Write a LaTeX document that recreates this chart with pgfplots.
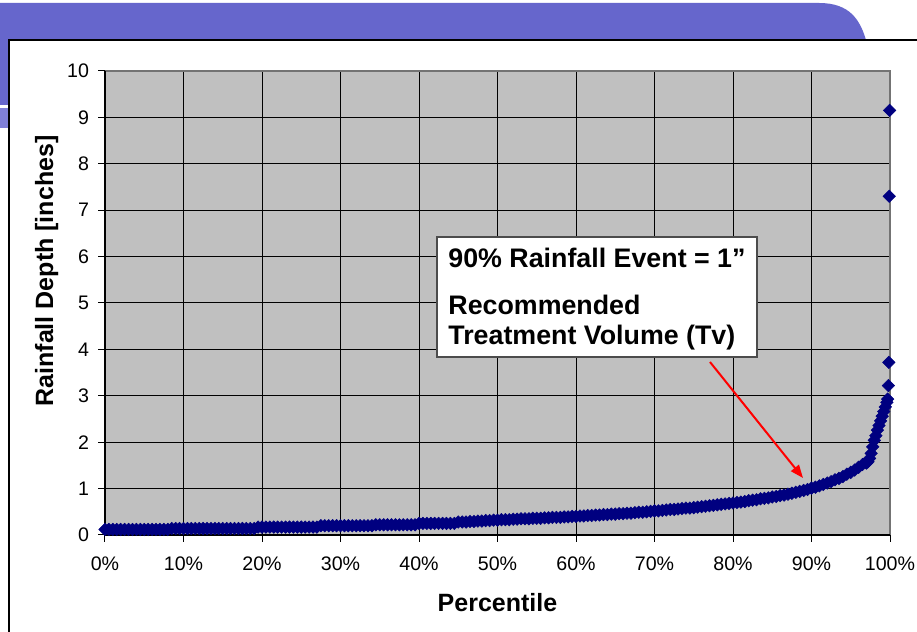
\documentclass[border=0pt]{standalone}
\usepackage{pgfplots}
\pgfplotsset{compat=1.18}
\usepackage{fontspec}
\setmainfont{Liberation Sans}
\usetikzlibrary{arrows.meta}
\definecolor{bandpurple}{RGB}{102,102,204}
\definecolor{bandlight}{RGB}{128,128,216}
\definecolor{plotgray}{RGB}{192,192,192}
\definecolor{navymark}{RGB}{0,0,128}
\definecolor{arrowred}{RGB}{255,0,0}
\begin{document}
\begin{tikzpicture}
\useasboundingbox (0,0) rectangle (458.5pt,316pt);
\fill[white] (0,0) rectangle (458.5pt,316pt);
% slide band
\fill[bandpurple] (0,296pt) -- (0,314.5pt) -- (409.5pt,314.5pt) .. controls (425pt,314.5pt) and (430pt,306pt) .. (433pt,296pt) -- cycle;
\fill[bandpurple] (0,263.5pt) rectangle (4.5pt,296pt);
\fill[bandlight] (0,252pt) rectangle (4.5pt,262pt);
% frame
\fill[white] (4.5pt,-1pt) rectangle (460pt,296pt);
\draw[black,line width=0.9pt] (4.5pt,-1pt) -- (4.5pt,296pt) -- (460pt,296pt);
\begin{axis}[
  scale only axis,
  width=392.5pt, height=232pt,
  at={(52.5pt,48.5pt)}, anchor=south west,
  xmin=0, xmax=100, ymin=0, ymax=10,
  xtick={0,10,...,100},
  xticklabels={0\%,10\%,20\%,30\%,40\%,50\%,60\%,70\%,80\%,90\%,100\%},
  ytick={0,1,...,10},
  /pgf/number format/assume math mode=true,
  tick label style={font=\fontsize{9.8}{11}\selectfont, black},
  xticklabel style={yshift=-4pt},
  yticklabel style={xshift=-1pt},
  tick align=outside,
  xtick pos=bottom, ytick pos=left,
  major tick length=3.5pt,
  tick style={black, line width=0.5pt},
  grid=major,
  grid style={black, line width=0.5pt},
  axis line style={draw=none},
  axis background/.style={fill=plotgray},
  clip=false,
  xlabel={Percentile},
  ylabel={Rainfall Depth [inches]},
  label style={font=\fontsize{12.5}{14}\selectfont\bfseries},
  xlabel style={at={(axis description cs:0.5,-0.1638)}, anchor=base},
  ylabel style={at={(axis description cs:-0.066,0.569)}, anchor=base},
]
\draw[black!55, line width=0.8pt] (rel axis cs:0,1) -- (rel axis cs:1,1) -- (rel axis cs:1,0);
\draw[black, line width=0.6pt] (rel axis cs:0,1) -- (rel axis cs:0,0) -- (rel axis cs:1,0);
\addplot[only marks, mark=square*, mark size=2.2pt,
  mark options={rotate=45, draw=navymark, fill=navymark, line width=0.3pt}]
  table {
x y
0 0.12
0.5 0.12
1 0.12
1.5 0.12
2 0.12
2.5 0.12
3 0.12
3.5 0.12
4 0.12
4.5 0.12
5 0.12
5.5 0.12
6 0.12
6.5 0.12
7 0.12
7.5 0.12
8 0.12
8.5 0.14
9 0.14
9.5 0.14
10 0.14
10.5 0.14
11 0.14
11.5 0.14
12 0.14
12.5 0.14
13 0.14
13.5 0.14
14 0.14
14.5 0.14
15 0.14
15.5 0.14
16 0.14
16.5 0.14
17 0.14
17.5 0.14
18 0.14
18.5 0.14
19 0.14
19.5 0.17
20 0.17
20.5 0.17
21 0.17
21.5 0.17
22 0.17
22.5 0.17
23 0.17
23.5 0.17
24 0.17
24.5 0.17
25 0.17
25.5 0.17
26 0.17
26.5 0.17
27 0.17
27.5 0.20
28 0.20
28.5 0.20
29 0.20
29.5 0.20
30 0.20
30.5 0.20
31 0.20
31.5 0.20
32 0.20
32.5 0.20
33 0.20
33.5 0.20
34 0.20
34.5 0.22
35 0.22
35.5 0.22
36 0.22
36.5 0.22
37 0.22
37.5 0.22
38 0.22
38.5 0.22
39 0.22
39.5 0.22
40 0.25
40.5 0.25
41 0.25
41.5 0.25
42 0.25
42.5 0.25
43 0.25
43.5 0.25
44 0.25
44.5 0.25
45 0.28
45.5 0.28
46 0.28
46.5 0.29
47 0.29
47.5 0.30
48 0.30
48.5 0.31
49 0.31
49.5 0.32
50 0.32
50.5 0.33
51 0.33
51.5 0.33
52 0.34
52.5 0.34
53 0.35
53.5 0.35
54 0.35
54.5 0.36
55 0.36
55.5 0.36
56 0.37
56.5 0.37
57 0.38
57.5 0.38
58 0.38
58.5 0.39
59 0.39
59.5 0.40
60 0.40
60.5 0.41
61 0.41
61.5 0.42
62 0.42
62.5 0.43
63 0.43
63.5 0.44
64 0.44
64.5 0.45
65 0.45
65.5 0.46
66 0.46
66.5 0.47
67 0.47
67.5 0.48
68 0.49
68.5 0.49
69 0.50
69.5 0.51
70 0.52
70.5 0.52
71 0.53
71.5 0.54
72 0.55
72.5 0.55
73 0.56
73.5 0.57
74 0.58
74.5 0.58
75 0.59
75.5 0.60
76 0.61
76.5 0.62
77 0.63
77.5 0.64
78 0.65
78.5 0.66
79 0.67
79.5 0.68
80 0.69
80.5 0.70
81 0.71
81.5 0.72
82 0.74
82.5 0.75
83 0.76
83.5 0.78
84 0.79
84.5 0.80
85 0.82
85.5 0.83
86 0.85
86.5 0.86
87 0.88
87.5 0.90
88 0.92
88.5 0.94
89 0.96
89.5 0.98
90 1.01
90.5 1.03
91 1.06
91.5 1.09
92 1.12
92.5 1.15
93 1.19
93.5 1.22
94 1.26
94.5 1.31
95 1.35
95.5 1.40
96 1.46
96.5 1.52
97 1.55
97.2 1.58
97.4 1.65
97.6 1.76
97.8 1.90
98.0 2.04
98.2 2.14
98.4 2.26
98.6 2.36
98.8 2.46
99.0 2.56
99.2 2.66
99.4 2.76
99.6 2.86
99.7 2.93
99.8 3.22
99.85 3.72
99.9 7.30
99.95 9.15
};
\end{axis}
% annotation
\draw[black!70, line width=0.6pt, fill=white] (218.5pt,137.5pt) rectangle (378.5pt,197.5pt);
\node[anchor=base west, inner sep=0pt, font=\fontsize{13.4}{15}\selectfont\bfseries] at (224pt,182pt) {90\% Rainfall Event = 1”};
\node[anchor=base west, inner sep=0pt, font=\fontsize{13.4}{15}\selectfont\bfseries] at (224pt,158.5pt) {Recommended};
\node[anchor=base west, inner sep=0pt, font=\fontsize{13.4}{15}\selectfont\bfseries] at (224pt,143.5pt) {Treatment Volume (Tv)};
\draw[arrowred, line width=1pt, -{Triangle[length=6.5pt,width=5pt]}] (355pt,135pt) -- (401.5pt,77pt);
\end{tikzpicture}
\end{document}
